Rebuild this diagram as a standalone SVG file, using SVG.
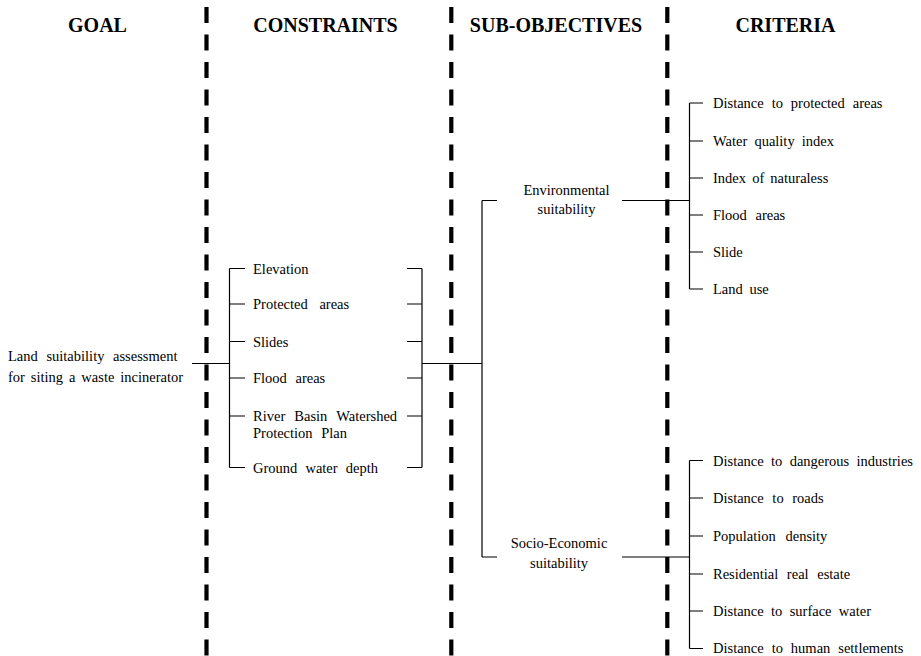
<svg xmlns="http://www.w3.org/2000/svg" width="921" height="656" viewBox="0 0 921 656">
<style>
text{font-family:"Liberation Serif","Times New Roman",serif;fill:#000}
.h{font-size:20px;font-weight:bold;text-anchor:middle}
.t{font-size:14.5px}
.c{text-anchor:middle}
.ln{stroke:#000;stroke-width:1.2;fill:none}
.dash{stroke:#000;stroke-width:4.2;stroke-dasharray:16 11.5;fill:none}
</style>
<rect width="921" height="656" fill="#fff"/>
<g id="separators">
<line class="dash" x1="206.5" y1="7" x2="206.5" y2="656"/>
<line class="dash" x1="451.3" y1="7" x2="451.3" y2="656"/>
<line class="dash" x1="667.3" y1="7" x2="667.3" y2="656"/>
</g>
<g id="headers">
<text class="h" x="97.5" y="32">GOAL</text>
<text class="h" x="325.5" y="32">CONSTRAINTS</text>
<text class="h" x="556" y="32">SUB-OBJECTIVES</text>
<text class="h" x="785.5" y="32">CRITERIA</text>
</g>
<g id="connectors">
<path class="ln" d="M192 363.5H229.5M229.5 268.5V467.5M229.5 268.5H245M229.5 304H245M229.5 341.5H245M229.5 378H245M229.5 416H245M229.5 467.5H245"/>
<path class="ln" d="M407 268.5H422M407 304H422M407 341.5H422M407 378H422M407 416H422M407 467.5H422M422 268.5V467.5M422 363.5H482"/>
<path class="ln" d="M482 200.5V557M482 200.5H497M482 557H497"/>
<path class="ln" d="M622 200.5H689.5M689.5 103V289M689.5 103H703M689.5 141H703M689.5 178H703M689.5 215H703M689.5 252H703M689.5 289H703"/>
<path class="ln" d="M622 557H689.5M689.5 460.5V648.5M689.5 460.5H703M689.5 498H703M689.5 536H703M689.5 574H703M689.5 611H703M689.5 648.5H703"/>
</g>
<g id="goal">
<text class="t" x="8" y="361" word-spacing="5">Land suitability assessment</text>
<text class="t" x="8" y="382" word-spacing="2.3">for siting a waste incinerator</text>
</g>
<g id="constraints">
<text class="t" x="253" y="273.5">Elevation</text>
<text class="t" x="253" y="309" word-spacing="8">Protected areas</text>
<text class="t" x="253" y="346.5">Slides</text>
<text class="t" x="253" y="383" word-spacing="5">Flood areas</text>
<text class="t" x="253" y="421" word-spacing="5.5">River Basin Watershed</text>
<text class="t" x="253" y="438" word-spacing="5">Protection Plan</text>
<text class="t" x="253" y="472.5" word-spacing="4.5">Ground water depth</text>
</g>
<g id="environmental">
<text class="t c" x="566.5" y="195" font-size="15">Environmental</text>
<text class="t c" x="566.5" y="214">suitability</text>
</g>
<g id="socio-economic">
<text class="t c" x="559" y="548" font-size="15">Socio-Economic</text>
<text class="t c" x="559" y="568">suitability</text>
</g>
<g id="env-criteria">
<text class="t" x="713" y="108" word-spacing="4.3">Distance to protected areas</text>
<text class="t" x="713" y="146" word-spacing="3.5">Water quality index</text>
<text class="t" x="713" y="183" word-spacing="2.5">Index of naturaless</text>
<text class="t" x="713" y="220" word-spacing="5">Flood areas</text>
<text class="t" x="713" y="257">Slide</text>
<text class="t" x="713" y="294" word-spacing="3">Land use</text>
</g>
<g id="socio-criteria">
<text class="t" x="713" y="465.5" word-spacing="3.7">Distance to dangerous industries</text>
<text class="t" x="713" y="503" word-spacing="5">Distance to roads</text>
<text class="t" x="713" y="541" word-spacing="6">Population density</text>
<text class="t" x="713" y="579" word-spacing="5">Residential real estate</text>
<text class="t" x="713" y="616" word-spacing="3.7">Distance to surface water</text>
<text class="t" x="713" y="653" word-spacing="4.3">Distance to human settlements</text>
</g>
</svg>
